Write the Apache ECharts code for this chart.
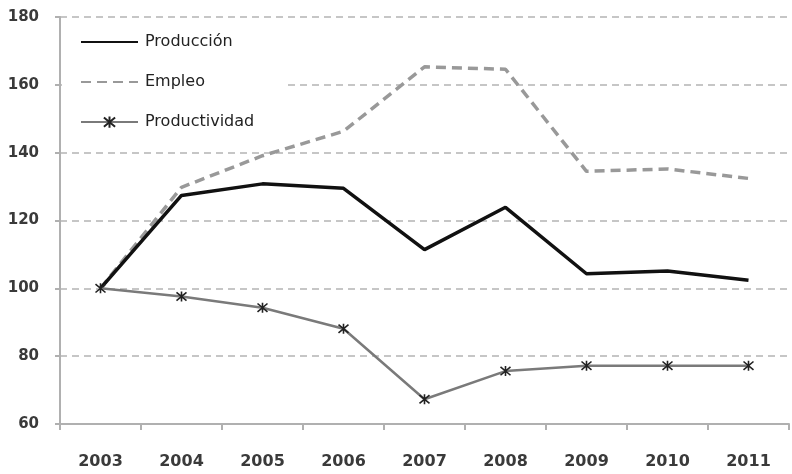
<!DOCTYPE html>
<html>
<head>
<meta charset="utf-8">
<script src="https://cdn.jsdelivr.net/npm/echarts@6/dist/echarts.min.js"></script>
<style>
  html, body { margin: 0; padding: 0; background: #fff; }
  #chart { width: 792px; height: 474px; }
</style>
</head>
<body>
<div id="chart"></div>
<script>
// Years on the category axis
const years = ['2003', '2004', '2005', '2006', '2007', '2008', '2009', '2010', '2011'];

// Index values (2003 = 100)
const produccion = [100, 127.4, 130.8, 129.5, 111.4, 123.9, 104.3, 105.1, 102.4];
const empleo = [100, 129.8, 139.1, 146.3, 165.3, 164.6, 134.5, 135.2, 132.4];
const productividad = [100, 97.6, 94.3, 88.1, 67.3, 75.6, 77.2, 77.2, 77.2];

// Value axis ticks
const yTicks = [60, 80, 100, 120, 140, 160, 180];

const asterisk = 'path://M0,0L10,10M10,0L0,10M5,-1L5,11';
const hidden = { color: 'transparent', borderWidth: 0 };

const chart = echarts.init(document.getElementById('chart'));
chart.setOption({
  animation: false,
  backgroundColor: '#ffffff',
  grid: { left: 60, right: 3, top: 17, bottom: 50, containLabel: false },
  legend: {
    orient: 'vertical',
    left: 62,
    top: 22,
    padding: [12, 32, 10, 18],
    backgroundColor: '#ffffff',
    itemWidth: 57,
    itemHeight: 14,
    itemGap: 24,
    textStyle: { fontFamily: 'DejaVu Sans', fontSize: 16, color: '#222', padding: [0, 0, 0, 2] },
    data: [
      { name: 'Producción', itemStyle: hidden },
      { name: 'Empleo', itemStyle: hidden },
      { name: 'Productividad' }
    ]
  },
  xAxis: {
    type: 'category',
    data: years,
    boundaryGap: true,
    axisLine: { lineStyle: { color: '#b0b0b0', width: 2 } },
    axisTick: { show: true, length: 6, lineStyle: { color: '#b0b0b0', width: 2 } },
    axisLabel: {
      margin: 30,
      fontFamily: 'DejaVu Sans',
      fontWeight: 'bold',
      fontSize: 16,
      color: '#3a3a3a'
    }
  },
  yAxis: {
    type: 'value',
    min: yTicks[0],
    max: yTicks[yTicks.length - 1],
    interval: 20,
    axisLine: { show: true, lineStyle: { color: '#b0b0b0', width: 2 } },
    axisTick: { show: true, length: 5, lineStyle: { color: '#b0b0b0', width: 2 } },
    axisLabel: {
      margin: 21,
      fontFamily: 'DejaVu Sans',
      fontWeight: 'bold',
      fontSize: 15,
      color: '#3a3a3a'
    },
    splitLine: {
      show: true,
      lineStyle: { color: '#b4b4b4', width: 1.5, type: [7, 5] }
    }
  },
  series: [
    {
      name: 'Producción',
      type: 'line',
      data: produccion,
      symbol: 'none',
      lineStyle: { color: '#111', width: 3.5 },
      itemStyle: { color: '#111' },
      z: 4
    },
    {
      name: 'Empleo',
      type: 'line',
      data: empleo,
      symbol: 'none',
      lineStyle: { color: '#999', width: 3.5, type: [10, 6] },
      itemStyle: { color: '#999' },
      z: 3
    },
    {
      name: 'Productividad',
      type: 'line',
      data: productividad,
      symbol: asterisk,
      symbolSize: 10,
      showSymbol: true,
      lineStyle: { color: '#7a7a7a', width: 2.5 },
      itemStyle: { color: 'none', borderColor: '#222', borderWidth: 1.6 },
      z: 5
    }
  ]
});
</script>
</body>
</html>
